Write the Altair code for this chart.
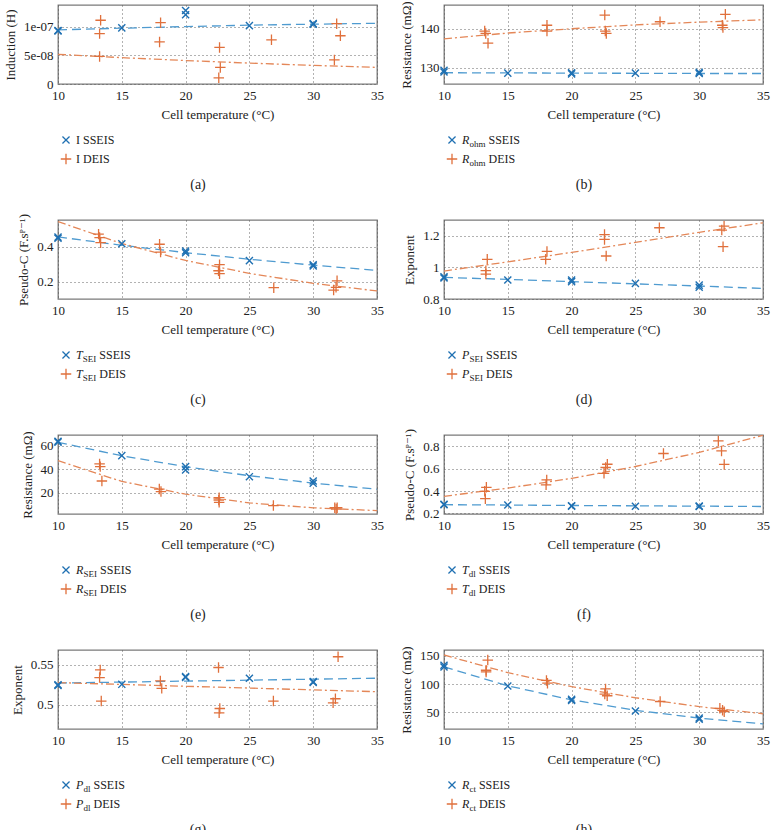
import altair as alt
import pandas as pd

# ---------------- data ----------------
T_FIT = [10, 15, 20, 25, 30, 35]
X_TICKS = [10, 15, 20, 25, 30, 35]

# (a) Induction
a_s_t = [10, 10, 15, 20, 20, 25, 30, 30]
a_s_v = [0.935e-7, 0.925e-7, 0.98e-7, 1.283e-7, 1.21e-7, 1.02e-7, 1.055e-7, 1.045e-7]
a_d_t = [13.34, 13.26, 13.26, 18.04, 17.96, 22.66, 22.72, 22.60, 26.73, 31.84, 32.13, 31.66]
a_d_v = [1.114e-7, 0.88e-7, 0.482e-7, 1.072e-7, 0.735e-7, 0.639e-7, 0.289e-7, 0.108e-7,
         0.771e-7, 1.054e-7, 0.843e-7, 0.42e-7]
a_s_fit = [0.946e-7, 0.975e-7, 1.003e-7, 1.028e-7, 1.045e-7, 1.06e-7]
a_d_fit = [0.518e-7, 0.46e-7, 0.41e-7, 0.365e-7, 0.325e-7, 0.29e-7]

# (b) R_ohm
b_s_t = [10, 10, 15, 20, 20, 25, 30, 30]
b_s_v = [129.3, 128.9, 128.6, 128.7, 128.4, 128.6, 128.8, 128.5]
b_d_t = [13.19, 13.27, 13.45, 18.07, 18.07, 22.6, 22.64, 22.72, 26.93, 31.81, 31.86, 32.05]
b_d_v = [139.4, 138.8, 136.3, 140.9, 139.4, 143.5, 139.4, 138.8, 141.8, 140.9, 140.3, 143.7]
b_s_fit = [128.7, 128.65, 128.6, 128.55, 128.5, 128.5]
b_d_fit = [137.4, 138.9, 140.0, 141.0, 141.7, 142.3]

# (c) T_SEI
c_s_t = [10, 10, 15, 20, 20, 25, 30, 30]
c_s_v = [0.455, 0.448, 0.417, 0.375, 0.365, 0.320, 0.296, 0.289]
c_d_t = [13.18, 13.26, 13.34, 17.96, 18.04, 22.66, 22.58, 22.66, 26.91, 31.87, 31.79, 31.6]
c_d_v = [0.472, 0.452, 0.423, 0.414, 0.369, 0.297, 0.262, 0.245, 0.165, 0.204, 0.167, 0.151]
c_s_fit = [0.456, 0.408, 0.366, 0.328, 0.294, 0.264]
c_d_fit = [0.544, 0.418, 0.321, 0.247, 0.190, 0.146]

# (d) P_SEI
d_s_t = [10, 10, 15, 20, 20, 25, 30, 30]
d_s_v = [0.94, 0.933, 0.92, 0.92, 0.91, 0.899, 0.888, 0.874]
d_d_t = [13.39, 13.28, 13.28, 18.07, 17.97, 22.58, 22.58, 22.71, 26.88, 31.77, 31.95, 31.87]
d_d_v = [1.051, 0.979, 0.958, 1.101, 1.051, 1.208, 1.177, 1.072, 1.251, 1.236, 1.261, 1.131]
d_s_fit = [0.937, 0.924, 0.91, 0.896, 0.882, 0.867]
d_d_fit = [0.977, 1.035, 1.095, 1.158, 1.222, 1.282]

# (e) R_SEI
e_s_t = [10, 10, 15, 20, 20, 25, 30, 30]
e_s_v = [64.0, 63.3, 51.7, 42.3, 39.4, 33.7, 30.0, 28.0]
e_d_t = [13.26, 13.31, 13.44, 17.94, 18.07, 22.63, 22.63, 22.6, 26.88, 31.69, 31.88, 31.8]
e_d_v = [44.6, 42.3, 30.0, 23.1, 20.9, 15.7, 11.7, 13.7, 8.9, 7.1, 7.1, 6.0]
e_s_fit = [63.1, 51.6, 42.2, 34.5, 28.2, 22.9]
e_d_fit = [47.4, 29.6, 18.7, 11.2, 7.0, 4.6]

# (f) T_dl
f_s_t = [10, 10, 15, 20, 20, 25, 30, 30]
f_s_v = [0.282, 0.277, 0.275, 0.269, 0.265, 0.264, 0.266, 0.262]
f_d_t = [13.32, 13.19, 13.24, 18.05, 18.0, 22.8, 22.67, 22.54, 27.2, 31.5, 31.75, 31.96]
f_d_v = [0.433, 0.397, 0.332, 0.499, 0.455, 0.639, 0.61, 0.558, 0.735, 0.847, 0.758, 0.637]
f_s_fit = [0.278, 0.275, 0.271, 0.268, 0.265, 0.262]
f_d_fit = [0.353, 0.426, 0.513, 0.619, 0.745, 0.898]

# (g) P_dl
g_s_t = [10, 10, 15, 20, 20, 25, 30, 30]
g_s_v = [0.5250, 0.5240, 0.5254, 0.5350, 0.5340, 0.5330, 0.5288, 0.5278]
g_d_t = [13.31, 13.26, 13.39, 18.02, 18.13, 22.58, 22.68, 22.63, 26.88, 31.56, 31.74, 31.95]
g_d_v = [0.5433, 0.5338, 0.5046, 0.5296, 0.5204, 0.5463, 0.4954, 0.4900, 0.5046, 0.5025, 0.5075, 0.5596]
g_s_fit = [0.527, 0.5282, 0.5294, 0.5306, 0.5318, 0.533]
g_d_fit = [0.5275, 0.5253, 0.523, 0.5208, 0.5185, 0.5163]

# (h) R_ct
h_s_t = [10, 10, 15, 20, 20, 25, 30, 30]
h_s_v = [133, 130, 96.4, 73, 71, 52.4, 40, 38]
h_d_t = [13.43, 13.3, 13.3, 18.03, 18.11, 22.66, 22.6, 22.79, 26.94, 31.62, 31.83, 31.96]
h_d_v = [142.2, 124.3, 121.3, 106.3, 101.5, 91.3, 82.3, 79.3, 69.2, 57.2, 53.6, 51.2]
h_s_fit = [130.2, 96.9, 72.1, 53.7, 40.0, 29.8]
h_d_fit = [151.2, 120.1, 95.4, 75.8, 60.2, 47.6]

PSEUDO = "Pseudo-C (F.s\u1d3e\u207b\u00b9)"
RES = "Resistance (m\u03a9)"

# ---------------- styling ----------------
FONT = "Liberation Serif, DejaVu Serif, serif"
BLUE = "#1f70b2"
BLUE_LINE = "#4f9bd0"
ORANGE = "#e0703c"
ORANGE_LINE = "#e48758"
X_PATH = "M-1,-1L1,1M-1,1L1,-1"
PLUS_PATH = "M-1,0L1,0M0,-1L0,1"
W, H = 319, 79
EM = {"R": 0.62, "T": 0.56, "P": 0.62, "I": 0.34, "o": 0.5, "h": 0.5, "m": 0.78,
      "S": 0.56, "E": 0.61, "d": 0.5, "l": 0.28, "c": 0.44, "t": 0.28}


def tw(s, size):
    return sum(EM.get(ch, 0.5) for ch in s) * size


def one():
    return pd.DataFrame({"k": [0]})


def panel(cap, ytitle, ydom, yticks, s_t, s_v, d_t, d_v, s_fit, d_fit, sym, sub, sci=False):
    if sci:
        expr = "datum.value == 0 ? '0' : replace(format(datum.value, '.0e'), 'e-', 'e-0')"
    else:
        expr = "format(datum.value, '~g')"
    yaxis = alt.Axis(values=yticks, title=ytitle, labelExpr=expr)
    xenc = alt.X("t:Q", scale=alt.Scale(domain=[10, 35], nice=False, zero=False),
                 axis=alt.Axis(values=X_TICKS, title="Cell temperature (\u00b0C)", labelFlush=False))
    yenc = alt.Y("v:Q", scale=alt.Scale(domain=ydom, nice=False, zero=False), axis=yaxis)

    fs = pd.DataFrame({"t": T_FIT, "v": s_fit})
    fd = pd.DataFrame({"t": T_FIT, "v": d_fit})
    ps = pd.DataFrame({"t": s_t, "v": s_v})
    pdd = pd.DataFrame({"t": d_t, "v": d_v})

    line_s = alt.Chart(fs).mark_line(color=BLUE_LINE, strokeDash=[9, 5], strokeWidth=1.3, clip=True).encode(x=xenc, y=yenc)
    line_d = alt.Chart(fd).mark_line(color=ORANGE_LINE, strokeDash=[8, 3, 2, 3], strokeWidth=1.3, clip=True).encode(x=xenc, y=yenc)
    pt_s = alt.Chart(ps).mark_point(shape=X_PATH, size=50, filled=False, strokeWidth=1.4, color=BLUE, opacity=1).encode(x=xenc, y=yenc)
    pt_d = alt.Chart(pdd).mark_point(shape=PLUS_PATH, size=110, filled=False, strokeWidth=1.3, color=ORANGE, opacity=1).encode(x=xenc, y=yenc)

    layers = [line_s, line_d, pt_s, pt_d]

    # custom legend below the plot
    rows = [("SSEIS", H + 56, X_PATH, 50, BLUE), ("DEIS", H + 75, PLUS_PATH, 110, ORANGE)]
    fsz, ssz = 12, 9
    for label, yy, shape, size, col in rows:
        layers.append(alt.Chart(one()).mark_point(shape=shape, size=size, filled=False, strokeWidth=1.3,
                                                  color=col, opacity=1).encode(x=alt.value(8), y=alt.value(yy)))
        if sub == "":
            layers.append(alt.Chart(one()).mark_text(align="left", baseline="middle", fontSize=fsz, color="#222")
                          .encode(x=alt.value(18), y=alt.value(yy), text=alt.value(f"{sym} {label}")))
        else:
            x0 = 18
            wm = tw(sym, fsz)
            wsb = tw(sub, ssz)
            layers.append(alt.Chart(one()).mark_text(align="left", baseline="middle", fontSize=fsz, fontStyle="italic", color="#222")
                          .encode(x=alt.value(x0), y=alt.value(yy), text=alt.value(sym)))
            layers.append(alt.Chart(one()).mark_text(align="left", baseline="middle", fontSize=ssz, color="#222")
                          .encode(x=alt.value(x0 + wm), y=alt.value(yy + 3.5), text=alt.value(sub)))
            layers.append(alt.Chart(one()).mark_text(align="left", baseline="middle", fontSize=fsz, color="#222")
                          .encode(x=alt.value(x0 + wm + wsb + 3), y=alt.value(yy), text=alt.value(label)))
    layers.append(alt.Chart(one()).mark_text(align="center", baseline="middle", fontSize=14, color="#222")
                  .encode(x=alt.value(140), y=alt.value(H + 101), text=alt.value(cap)))

    return alt.layer(*layers).properties(width=W, height=H)


panels = [
    panel("(a)", "Induction (H)", [0, 1.38e-7], [0, 5e-8, 1e-7], a_s_t, a_s_v, a_d_t, a_d_v, a_s_fit, a_d_fit, "I", "", sci=True),
    panel("(b)", RES, [125.8, 146.1], [130, 140], b_s_t, b_s_v, b_d_t, b_d_v, b_s_fit, b_d_fit, "R", "ohm"),
    panel("(c)", PSEUDO, [0.1, 0.553], [0.2, 0.4], c_s_t, c_s_v, c_d_t, c_d_v, c_s_fit, c_d_fit, "T", "SEI"),
    panel("(d)", "Exponent", [0.8, 1.3], [0.8, 1.0, 1.2], d_s_t, d_s_v, d_d_t, d_d_v, d_s_fit, d_d_fit, "P", "SEI"),
    panel("(e)", RES, [1.7, 69.4], [20, 40, 60], e_s_t, e_s_v, e_d_t, e_d_v, e_s_fit, e_d_fit, "R", "SEI"),
    panel("(f)", PSEUDO, [0.195, 0.9], [0.2, 0.4, 0.6, 0.8], f_s_t, f_s_v, f_d_t, f_d_v, f_s_fit, f_d_fit, "T", "dl"),
    panel("(g)", "Exponent", [0.47, 0.568], [0.5, 0.55], g_s_t, g_s_v, g_d_t, g_d_v, g_s_fit, g_d_fit, "P", "dl"),
    panel("(h)", RES, [20.7, 160], [50, 100, 150], h_s_t, h_s_v, h_d_t, h_d_v, h_s_fit, h_d_fit, "R", "ct"),
]

chart = alt.concat(*panels, columns=2, spacing={"row": 136, "column": 67}, bounds="flush").properties(
    padding={"left": 3, "top": 0, "right": 0, "bottom": 0}
).configure_view(
    stroke="#7a7a7a", strokeWidth=1.3
).configure_axis(
    labelFont=FONT, titleFont=FONT, labelFontSize=13, titleFontSize=13, titleFontWeight="normal",
    labelColor="#222", titleColor="#222", domain=False, ticks=False,
    gridColor="#555", gridDash=[1, 3], gridOpacity=0.9, gridWidth=1,
    labelPadding=5, titlePadding=6
).configure_text(font=FONT)

chart.save("out.html", embed_options={"renderer": "svg", "actions": False})
